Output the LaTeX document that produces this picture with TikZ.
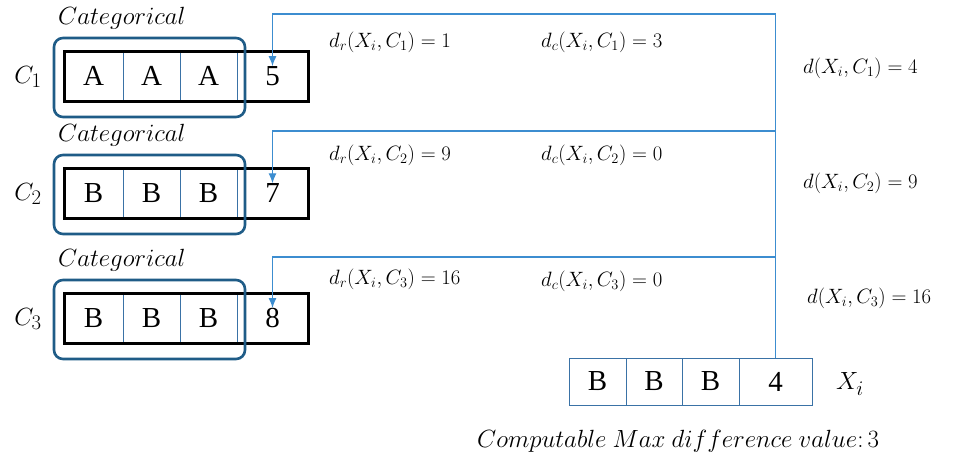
\documentclass[tikz,border=0pt]{standalone}
\usepackage{fontspec}
\setmainfont{Liberation Serif}
\usetikzlibrary{arrows.meta}
\definecolor{catblue}{HTML}{1F5C87}
\definecolor{linkblue}{HTML}{3C8DD0}
\definecolor{xiblue}{HTML}{3A72A6}
\begin{document}
\begin{tikzpicture}[x=1pt,y=-1pt,
  cell/.style={inner sep=0pt,font=\fontsize{29}{32}\selectfont},
  catbox/.style={draw=catblue,line width=2.6pt,rounded corners=9pt},
  blackbox/.style={draw=black,line width=3pt},
  divider/.style={draw=xiblue,line width=0.8pt},
  conn/.style={draw=linkblue,line width=1.3pt},
  arr/.style={conn,-{Latex[length=10pt,width=8pt]}},
  lbl/.style={inner sep=0pt,anchor=west,font=\fontsize{20.5}{24}\selectfont},
  catlbl/.style={inner sep=0pt,anchor=west,font=\fontsize{23}{26}\selectfont},
  botlbl/.style={inner sep=0pt,anchor=west,font=\fontsize{25}{28}\selectfont},
  clbl/.style={inner sep=0pt,font=\fontsize{28}{30}\selectfont}]
\useasboundingbox[fill=white] (0,0) rectangle (963,459);

% ---- cluster rows ----
\foreach \r/\t/\L/\V in {1/51/A/5, 2/168/B/7, 3/293/B/8}{
  \pgfmathsetmacro{\b}{\t+50}
  \pgfmathsetmacro{\m}{\t+25}
  \draw[divider] (123,\t) -- (123,\b);
  \draw[divider] (180,\t) -- (180,\b);
  \draw[divider] (237,\t) -- (237,\b);
  \draw[blackbox] (64,\t) rectangle (308,\b);
  \node[cell] (a\r) at (93.5,\m) {\L};
  \node[cell] (b\r) at (151.5,\m) {\L};
  \node[cell] (c\r) at (208.5,\m) {\L};
  \node[cell] (v\r) at (272.5,\m) {\V};
  \draw[catbox] (54,\t-13) rectangle (245,\b+16);
  \node[catlbl] (cat\r) at (58,\t-33) {$Categorical$};
  \node[clbl] (C\r) at (28,\m+1) {$C_\r$};
}

% ---- X_i ----
\draw[draw=xiblue,line width=1pt] (569,358) rectangle (812,405);
\draw[divider] (626,358) -- (626,405);
\draw[divider] (682,358) -- (682,405);
\draw[divider] (739,358) -- (739,405);
\node[cell] (x1) at (597.5,381.5) {B};
\node[cell] (x2) at (654,381.5) {B};
\node[cell] (x3) at (710.5,381.5) {B};
\node[cell,minimum height=47pt] (x4) at (775.5,381.5) {4};
\node[clbl] (Xi) at (850,384) {$X_i$};

% ---- connectors ----
\coordinate (t1) at (775.5,14);
\coordinate (t2) at (775.5,131);
\coordinate (t3) at (775.5,257);
\draw[arr] (x4.north) -- (t1) -| (v1.north);
\draw[arr] (t2) -| (v2.north);
\draw[arr] (t3) -| (v3.north);

% ---- labels ----
\node[lbl] (dr1) at (329,42) {$d_r(X_i,C_1)=1$};
\node[lbl] (dc1) at (541,42) {$d_c(X_i,C_1)=3$};
\node[lbl] (d1) at (803,68) {$d(X_i,C_1)=4$};
\node[lbl] (dr2) at (329,155) {$d_r(X_i,C_2)=9$};
\node[lbl] (dc2) at (541,155) {$d_c(X_i,C_2)=0$};
\node[lbl] (d2) at (803,183) {$d(X_i,C_2)=9$};
\node[lbl] (dr3) at (329,279) {$d_r(X_i,C_3)=16$};
\node[lbl] (dc3) at (541,281) {$d_c(X_i,C_3)=0$};
\node[lbl] (d3) at (807,298) {$d(X_i,C_3)=16$};
\node[botlbl] (cmax) at (477,441) {$Computable\ Max\ difference\ value\colon 3$};
\end{tikzpicture}
\end{document}
